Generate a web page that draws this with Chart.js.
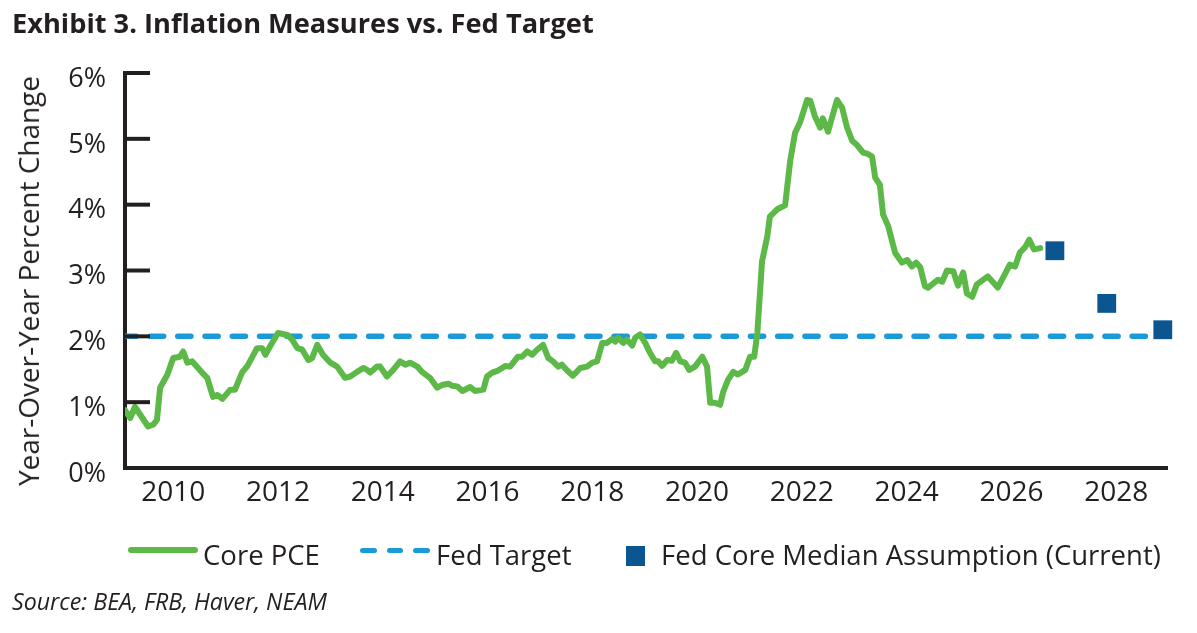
<!DOCTYPE html>
<html>
<head>
<meta charset="utf-8">
<script src="https://cdn.jsdelivr.net/npm/chart.js@4.4.0/dist/chart.umd.min.js"></script>
<style>
  html, body { margin: 0; padding: 0; background: #ffffff; }
  #wrap { position: relative; width: 1197px; height: 633px; overflow: hidden; color: #231f20; }
  #chartBox { position: absolute; left: 0; top: 0; width: 1197px; height: 633px; }
  .txt { position: absolute; white-space: nowrap; line-height: 1; font-family: "Open Sans", sans-serif; color: #231f20; }
  .sym { position: absolute; }
</style>
</head>
<body>
<div id="wrap">
  <div id="chartBox"><canvas id="c"></canvas></div>
  <div id="title" class="txt" style="font-weight:700">Exhibit 3. Inflation Measures vs. Fed Target</div>
  <div id="ylabel" class="txt">Year-Over-Year Percent Change</div>
  <div id="legLine" class="sym"></div>
  <div id="legDash1" class="sym"></div>
  <div id="legDash2" class="sym"></div>
  <div id="legDash3" class="sym"></div>
  <div id="legSquare" class="sym"></div>
  <div id="leg1" class="txt">Core PCE</div>
  <div id="leg2" class="txt">Fed Target</div>
  <div id="leg3" class="txt">Fed Core Median Assumption (Current)</div>
  <div id="source" class="txt" style="font-style:italic">Source: BEA, FRB, Haver, NEAM</div>
</div>
<script>
// ---------------- DATA ----------------
const seriesNames = ['Core PCE', 'Fed Target', 'Fed Core Median Assumption (Current)'];

const pceYears = [
  2009.08, 2009.18, 2009.27, 2009.52, 2009.62, 2009.69, 2009.75, 2009.89,
  2010.00, 2010.13, 2010.19, 2010.27, 2010.36, 2010.55, 2010.65, 2010.76, 2010.84, 2010.94,
  2011.09, 2011.18, 2011.32, 2011.41, 2011.60, 2011.70, 2011.76, 2011.85,
  2012.00, 2012.18, 2012.27, 2012.37, 2012.46, 2012.58, 2012.65, 2012.75, 2012.86,
  2013.00, 2013.13, 2013.28, 2013.38, 2013.51, 2013.63, 2013.70, 2013.76, 2013.89, 2013.95,
  2014.08, 2014.20, 2014.33, 2014.43, 2014.52, 2014.66, 2014.75, 2014.90,
  2015.04, 2015.13, 2015.25, 2015.32, 2015.42, 2015.52, 2015.67, 2015.76, 2015.92, 2015.99,
  2016.09, 2016.20, 2016.34, 2016.43, 2016.58, 2016.66, 2016.76, 2016.85, 2016.95,
  2017.06, 2017.16, 2017.25, 2017.35, 2017.42, 2017.52, 2017.63, 2017.77, 2017.90,
  2018.00, 2018.09, 2018.19, 2018.28, 2018.38, 2018.44, 2018.49, 2018.59, 2018.66, 2018.76, 2018.82, 2018.91,
  2019.01, 2019.10, 2019.20, 2019.26, 2019.33, 2019.43, 2019.52, 2019.60, 2019.68, 2019.77, 2019.85, 2019.96,
  2020.10, 2020.19, 2020.25, 2020.34, 2020.44, 2020.50, 2020.59, 2020.69, 2020.78, 2020.92,
  2021.01, 2021.09, 2021.15, 2021.24, 2021.34, 2021.39, 2021.53, 2021.68, 2021.78, 2021.87, 2021.97,
  2022.10, 2022.16, 2022.25, 2022.35, 2022.40, 2022.50, 2022.67, 2022.77, 2022.86, 2022.96,
  2023.05, 2023.17, 2023.26, 2023.34, 2023.40, 2023.49, 2023.55, 2023.65, 2023.78, 2023.91,
  2024.01, 2024.10, 2024.18, 2024.26, 2024.35, 2024.41, 2024.60, 2024.68, 2024.77, 2024.89, 2024.98,
  2025.08, 2025.15, 2025.25, 2025.34, 2025.55, 2025.74, 2025.97,
  2026.07, 2026.16, 2026.26, 2026.34, 2026.43, 2026.55
];
const pceValues = [
  0.88, 0.76, 0.93, 0.63, 0.66, 0.73, 1.22, 1.42,
  1.67, 1.69, 1.77, 1.60, 1.62, 1.45, 1.37, 1.08, 1.11, 1.05,
  1.19, 1.19, 1.46, 1.54, 1.82, 1.82, 1.72, 1.85,
  2.05, 2.02, 1.95, 1.82, 1.80, 1.64, 1.67, 1.87, 1.72,
  1.60, 1.54, 1.37, 1.39, 1.46, 1.52, 1.49, 1.45, 1.54, 1.54,
  1.39, 1.49, 1.62, 1.57, 1.60, 1.54, 1.46, 1.37,
  1.22, 1.26, 1.28, 1.25, 1.24, 1.17, 1.23, 1.17, 1.19, 1.39,
  1.45, 1.48, 1.55, 1.54, 1.69, 1.69, 1.77, 1.72, 1.80,
  1.87, 1.67, 1.62, 1.54, 1.57, 1.48, 1.40, 1.52, 1.54,
  1.60, 1.62, 1.90, 1.90, 1.96, 1.92, 1.98, 1.90, 1.95, 1.86, 1.98, 2.03,
  1.90, 1.75, 1.62, 1.62, 1.55, 1.64, 1.63, 1.75, 1.62, 1.60, 1.49, 1.54,
  1.69, 1.54, 0.99, 0.99, 0.96, 1.16, 1.34, 1.46, 1.42, 1.49,
  1.69, 1.69, 2.05, 3.14, 3.52, 3.82, 3.93, 3.99, 4.68, 5.09, 5.26,
  5.59, 5.58, 5.34, 5.17, 5.31, 5.11, 5.59, 5.47, 5.18, 4.97,
  4.91, 4.79, 4.77, 4.73, 4.41, 4.30, 3.85, 3.67, 3.27, 3.12,
  3.16, 3.06, 3.12, 3.05, 2.76, 2.74, 2.86, 2.83, 3.00, 2.99, 2.77,
  2.97, 2.65, 2.60, 2.79, 2.91, 2.74, 3.09,
  3.06, 3.27, 3.35, 3.47, 3.32, 3.34
];

const fedTargetYears = [2009.08, 2028.70];
const fedTargetValues = [2.0, 2.0];

const medianYears = [2026.83, 2027.82, 2028.89];
const medianValues = [3.3, 2.5, 2.1];

const xTickYears = [2010, 2012, 2014, 2016, 2018, 2020, 2022, 2024, 2026, 2028];
const xTickLabels = ['2010', '2012', '2014', '2016', '2018', '2020', '2022', '2024', '2026', '2028'];
const yTickLabels = ['0%', '1%', '2%', '3%', '4%', '5%', '6%'];

// ---------------- STYLE ----------------
const GREEN = '#5cb947';
const BLUE = '#1a9ad6';
const NAVY = '#0b5690';
const INK = '#231f20';
const FONT = '"Open Sans", sans-serif';

// ---------------- TEXT HELPERS ----------------
const mctx = document.createElement('canvas').getContext('2d');
function fitSize(text, weight, style, width) {
  mctx.font = style + ' ' + weight + ' 100px ' + FONT;
  return 100 * width / mctx.measureText(text).width;
}
const ASC = 0.888; // baseline offset for line-height 1 (Open Sans)
function placeText(id, opts) {
  const el = document.getElementById(id);
  const size = opts.size || fitSize(el.textContent, opts.weight || '400', opts.style || 'normal', opts.width);
  el.style.fontSize = size + 'px';
  el.style.left = opts.left + 'px';
  el.style.top = (opts.baseline - ASC * size) + 'px';
  return size;
}
placeText('title', { left: 12, baseline: 33.5, width: 582, weight: '700' });
placeText('source', { left: 12, baseline: 611, width: 315, style: 'italic' });
const legSize = fitSize('Fed Core Median Assumption (Current)', '400', 'normal', 500);
placeText('leg1', { left: 203, baseline: 565, size: legSize });
placeText('leg2', { left: 436, baseline: 565, size: legSize });
placeText('leg3', { left: 661, baseline: 565, size: legSize });

(function () {
  const el = document.getElementById('ylabel');
  const size = fitSize(el.textContent, '400', 'normal', 410);
  el.style.fontSize = size + 'px';
  const w = el.getBoundingClientRect().width || 410;
  const cx = 40 - 0.388 * size;
  el.style.left = (cx - w / 2) + 'px';
  el.style.top = (281 - size / 2) + 'px';
  el.style.transformOrigin = '50% 50%';
  el.style.transform = 'rotate(-90deg)';
})();

function box(id, l, t, w, h, color, r) {
  const s = document.getElementById(id).style;
  s.left = l + 'px'; s.top = t + 'px'; s.width = w + 'px'; s.height = h + 'px';
  s.background = color; s.borderRadius = r + 'px';
}
box('legLine', 128, 547, 70, 6, GREEN, 3);
box('legDash1', 360, 547.5, 16.5, 5.5, BLUE, 2.75);
box('legDash2', 386.5, 547.5, 16.5, 5.5, BLUE, 2.75);
box('legDash3', 413, 547.5, 16.5, 5.5, BLUE, 2.75);
box('legSquare', 626, 546, 19, 20, NAVY, 0);

// ---------------- CHART ----------------
const pcePoints = pceYears.map((x, i) => ({ x: x, y: pceValues[i] }));
const fedPoints = fedTargetYears.map((x, i) => ({ x: x, y: fedTargetValues[i] }));
const medianPoints = medianYears.map((x, i) => ({ x: x, y: medianValues[i] }));

const innerTicks = {
  id: 'innerTicks',
  afterDatasetsDraw(chart) {
    const ys = chart.scales.y;
    const L = chart.chartArea.left;
    const ctx = chart.ctx;
    ctx.save();
    ctx.strokeStyle = INK;
    ctx.lineWidth = 4;
    ys.ticks.forEach(t => {
      if (t.value === 0) return;
      const py = ys.getPixelForValue(t.value);
      ctx.beginPath();
      ctx.moveTo(L - 2, py);
      ctx.lineTo(L + 25, py);
      ctx.stroke();
    });
    ctx.restore();
  }
};

new Chart(document.getElementById('c'), {
  type: 'line',
  data: {
    datasets: [
      {
        label: seriesNames[2], type: 'scatter', data: medianPoints,
        pointStyle: 'rect', pointRadius: 13.3, pointBorderWidth: 0,
        backgroundColor: NAVY, borderColor: NAVY, showLine: false, clip: false, order: 1
      },
      {
        label: seriesNames[0], data: pcePoints, borderColor: GREEN, borderWidth: 6,
        pointRadius: 0, borderJoinStyle: 'round', borderCapStyle: 'round', fill: false, order: 2
      },
      {
        label: seriesNames[1], data: fedPoints, borderColor: BLUE, borderWidth: 5.5,
        borderDash: [13.2, 14.07], borderDashOffset: 1.8, borderCapStyle: 'round',
        pointRadius: 0, fill: false, clip: 0, order: 3
      }
    ]
  },
  options: {
    responsive: true,
    maintainAspectRatio: false,
    animation: false,
    events: [],
    layout: { padding: { top: 73, right: 30, left: 0, bottom: 0 } },
    plugins: { legend: { display: false }, tooltip: { enabled: false }, title: { display: false } },
    scales: {
      x: {
        type: 'linear', min: 2009.08, max: 2028.97,
        afterBuildTicks: s => { s.ticks = xTickYears.map(v => ({ value: v })); },
        ticks: {
          autoSkip: false, maxRotation: 0, padding: 8, color: INK,
          font: { family: FONT, size: 28 },
          callback: (v, i) => xTickLabels[i]
        },
        grid: { display: false, drawTicks: false },
        border: { display: true, color: INK, width: 4 },
        afterFit: s => { s.height = 165; }
      },
      y: {
        min: 0, max: 6,
        ticks: {
          stepSize: 1, padding: 19, color: INK, labelOffset: 6,
          font: { family: FONT, size: 27 },
          callback: (v, i) => yTickLabels[i]
        },
        grid: { display: false, drawTicks: false },
        border: { display: true, color: INK, width: 4 },
        afterFit: s => { s.width = 125; }
      }
    }
  },
  plugins: [innerTicks]
});
</script>
</body>
</html>
